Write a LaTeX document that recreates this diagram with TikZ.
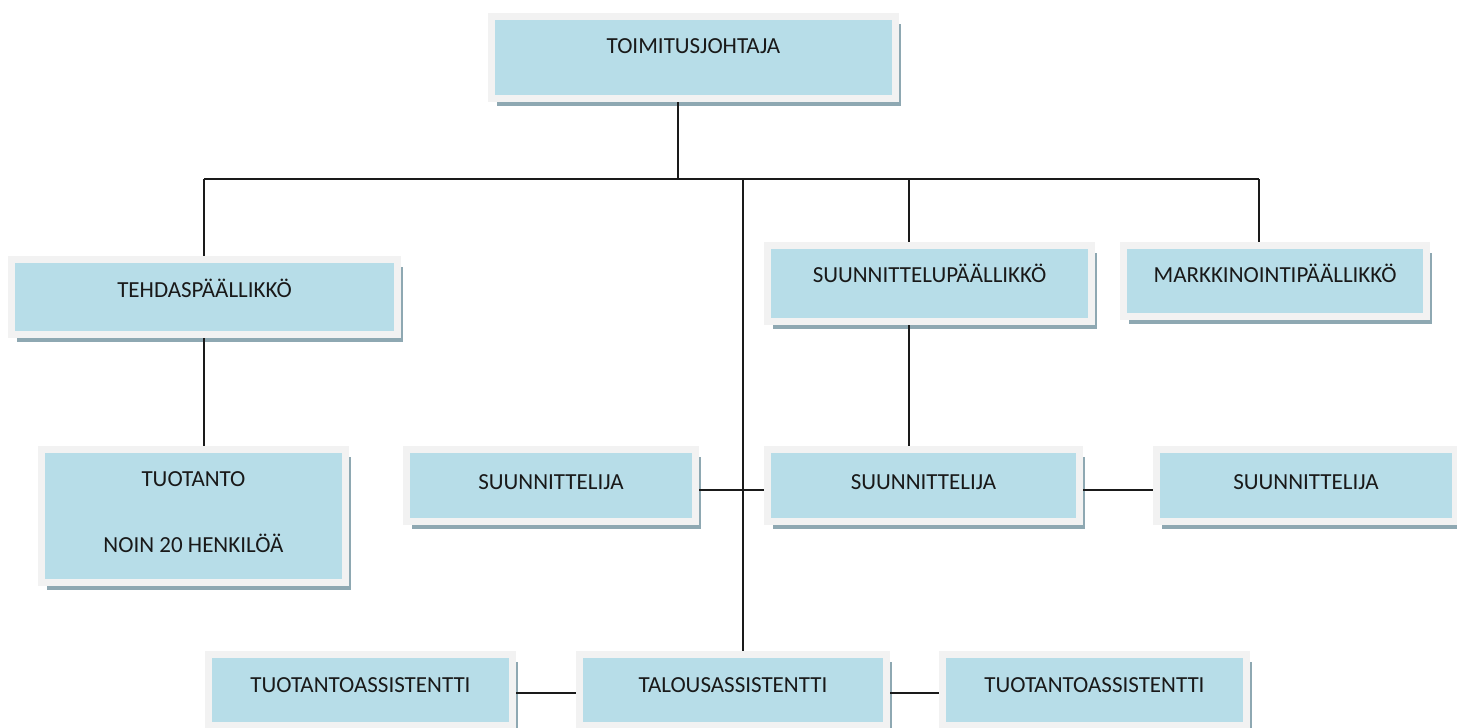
\documentclass[tikz,border=0pt]{standalone}
\usepackage{fontspec}
\setmainfont{Carlito}
\usetikzlibrary{shadows}
\definecolor{boxblue}{HTML}{B7DDE8}
\definecolor{boxgray}{HTML}{F2F2F2}
\definecolor{boxshadow}{HTML}{8EA8B2}
\definecolor{linegray}{HTML}{1A1A1A}
\begin{document}
\begin{tikzpicture}[x=0.5pt,y=-0.5pt,
    orgsize/.code n args={3}{%
      \pgfmathsetmacro\orgw{(#1+7)/2}\pgfmathsetmacro\orgh{(#2+3.5)/2}\pgfmathsetmacro\orgd{(#3+3.5)/2}%
      \tikzset{minimum width=\orgw pt, text height=\orgh pt, text depth=\orgd pt}},
    orgbox/.style={rectangle, fill=boxblue, draw=boxgray, line width=3.5pt, outer sep=1.75pt,
      inner sep=0pt, anchor=north west, font=\fontsize{11.5}{13.8}\selectfont, text=black!90,
      drop shadow={shadow xshift=2.75pt, shadow yshift=-3.5pt, fill=boxshadow, opacity=1}},
    orgline/.style={draw=linegray, line width=0.8pt}]
  \clip (0,0) rectangle (1457,728);
  % boxes, placed by the outer corner of the grey rim
  \node[orgbox, orgsize={397}{34}{41}] (toimitus) at (488,13) {TOIMITUSJOHTAJA};
  \node[orgbox, orgsize={379}{34}{34}] (tehdas) at (8,256) {TEHDASPÄÄLLIKKÖ};
  \node[orgbox, orgsize={297}{99}{27}, align=center] (tuotanto) at (38,446) {TUOTANTO\\[18.8pt]NOIN 20 HENKILÖÄ};
  \node[orgbox, orgsize={317}{33}{36}] (suunnpaall) at (764,242) {SUUNNITTELUPÄÄLLIKKÖ};
  \node[orgbox, orgsize={296}{33}{31}] (markk) at (1120,242) {MARKKINOINTIPÄÄLLIKKÖ};
  \node[orgbox, orgsize={282}{36}{29}] (suunnL) at (403,446) {SUUNNITTELIJA};
  \node[orgbox, orgsize={305}{36}{29}] (suunnC) at (764,446) {SUUNNITTELIJA};
  \node[orgbox, orgsize={292}{36}{29}] (suunnR) at (1153,446) {SUUNNITTELIJA};
  \node[orgbox, orgsize={297}{34}{30}] (tuotassL) at (205,651) {TUOTANTOASSISTENTTI};
  \node[orgbox, orgsize={300}{34}{30}] (talous) at (576,651) {TALOUSASSISTENTTI};
  \node[orgbox, orgsize={297}{34}{30}] (tuotassR) at (939,651) {TUOTANTOASSISTENTTI};
  % junctions on the bus and rows of the side lines
  \coordinate (top) at (678,179);
  \coordinate (j1) at (204,179);
  \coordinate (j2) at (743,179);
  \coordinate (j3) at (909,179);
  \coordinate (j4) at (1259,179);
  \coordinate (row2) at (0,490);
  \coordinate (row3) at (0,693);
  \draw[orgline] (toimitus.south -| top) -- (top);
  \draw[orgline] (j1) -- (j4);
  \draw[orgline] (j1) -- (j1 |- tehdas.north);
  \draw[orgline] (tehdas.south -| j1) -- (tuotanto.north -| j1);
  \draw[orgline] (j2) -- (j2 |- talous.north);
  \draw[orgline] (j3) -- (j3 |- suunnpaall.north);
  \draw[orgline] (suunnpaall.south -| j3) -- (suunnC.north -| j3);
  \draw[orgline] (j4) -- (j4 |- markk.north);
  \draw[orgline] (suunnL.east |- row2) -- (suunnC.west |- row2);
  \draw[orgline] (suunnC.east |- row2) -- (suunnR.west |- row2);
  \draw[orgline] (tuotassL.east |- row3) -- (talous.west |- row3);
  \draw[orgline] (talous.east |- row3) -- (tuotassR.west |- row3);
\end{tikzpicture}
\end{document}
